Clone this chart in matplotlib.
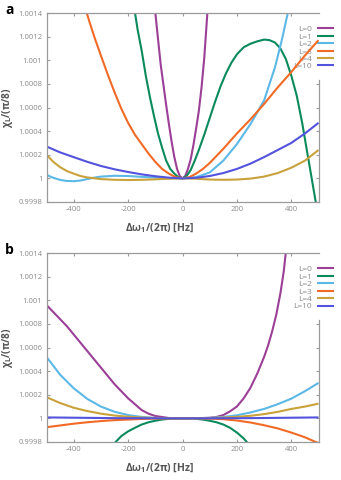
import matplotlib
matplotlib.use('Agg')
import matplotlib.pyplot as plt

FONT = 'Open Sans'
plt.rcParams['font.family'] = [FONT, 'DejaVu Sans']
plt.rcParams['axes.unicode_minus'] = False
plt.rcParams['mathtext.fontset'] = 'custom'
plt.rcParams['mathtext.rm'] = FONT
plt.rcParams['mathtext.bf'] = FONT + ':bold'
plt.rcParams['mathtext.it'] = FONT + ':italic'

# ---------------- data ----------------
labels = ['L=0', 'L=1', 'L=2', 'L=3', 'L=4', 'L=10']
colors = ['#9c3f97', '#0b8a5c', '#5cb8e6', '#f26b26', '#c9a23c', '#5353de']

xticks = [-400, -200, 0, 200, 400]
yticks = [0.9998, 1.0, 1.0002, 1.0004, 1.0006, 1.0008, 1.001, 1.0012, 1.0014]
yticklabels = ['0.9998', '1', '1.0002', '1.0004', '1.0006', '1.0008', '1.001', '1.0012', '1.0014']

# panel a
a_L0_x = [-102, -90, -80, -70, -60, -50, -40, -30, -20, -10, 0, 10, 20, 30, 40, 50, 60, 70, 80, 92]
a_L0_y = [1.00145, 1.00118, 1.00096, 1.00079, 1.00062, 1.00046, 1.00031, 1.00018, 1.00008, 1.00002, 1.0,
          1.00002, 1.00008, 1.00016, 1.00028, 1.00042, 1.00057, 1.00077, 1.00102, 1.00142]
a_L1_x = [-180, -165, -150, -135, -120, -105, -90, -75, -60, -45, -30, -15, 0, 15, 30, 45, 60, 80, 100,
          120, 140, 160, 180, 200, 225, 250, 275, 300, 320, 340, 360, 380, 400, 420, 440, 460, 475, 492]
a_L1_y = [1.00148, 1.00126, 1.00108, 1.00087, 1.00069, 1.00053, 1.00038, 1.00026, 1.00015, 1.00008, 1.00004,
          1.00001, 1.0, 1.00002, 1.00007, 1.00015, 1.00024, 1.00037, 1.00051, 1.00065, 1.00078, 1.00089,
          1.00098, 1.00105, 1.00111, 1.00114, 1.00116, 1.001175, 1.00117, 1.00115, 1.0011, 1.00101,
          1.00087, 1.0007, 1.00047, 1.0002, 1.0, 0.99977]
a_L2_x = [-500, -475, -450, -425, -400, -375, -350, -325, -300, -250, -200, -150, -100, -50, 0, 50, 100,
          150, 200, 250, 300, 340, 365, 390]
a_L2_y = [1.00003, 1.000005, 0.999987, 0.999978, 0.999976, 0.999982, 0.999994, 1.000006, 1.000015,
          1.000022, 1.00002, 1.000013, 1.000007, 1.000002, 1.0, 1.00001, 1.00005, 1.00015, 1.00029,
          1.00046, 1.00066, 1.00094, 1.00117, 1.00143]
a_L3_x = [-360, -340, -320, -300, -275, -250, -225, -200, -175, -150, -125, -100, -75, -50, -25, 0, 25,
          50, 75, 100, 150, 200, 250, 300, 350, 400, 450, 500]
a_L3_y = [1.00146, 1.00131, 1.00117, 1.00104, 1.00088, 1.00073, 1.00059, 1.00047, 1.00037, 1.00029,
          1.00021, 1.00014, 1.00008, 1.00004, 1.00001, 1.0, 1.00001, 1.00004, 1.00008, 1.00013, 1.00025,
          1.00038, 1.0005, 1.00063, 1.00077, 1.0009, 1.00104, 1.00117]
a_L4_x = [-500, -475, -450, -425, -400, -375, -350, -300, -250, -200, -150, -100, -50, 0, 50, 100, 150,
          200, 250, 300, 350, 400, 450, 500]
a_L4_y = [1.0002, 1.00014, 1.000095, 1.000062, 1.00004, 1.00002, 1.000008, 0.999994, 0.999988, 0.999986,
          0.999988, 0.999992, 0.999997, 1.0, 0.999997, 0.99999, 0.999988, 0.99999, 0.999998, 1.000015,
          1.000045, 1.00009, 1.00015, 1.00024]
a_L10_x = [-500, -450, -400, -350, -300, -250, -200, -150, -100, -50, 0, 50, 100, 150, 200, 250, 300,
           350, 400, 450, 500]
a_L10_y = [1.00027, 1.00022, 1.00018, 1.00014, 1.000105, 1.000077, 1.000054, 1.000034, 1.000018,
           1.000006, 1.0, 1.000005, 1.00002, 1.000045, 1.00008, 1.000125, 1.00018, 1.00024, 1.0003,
           1.00038, 1.00047]

# panel b
b_L0_x = [-500, -475, -450, -425, -400, -375, -350, -325, -300, -275, -250, -225, -200, -175, -150, -125,
          -100, -50, 0, 50, 100, 125, 150, 175, 200, 225, 250, 275, 300, 315, 330, 345, 360, 372, 382]
b_L0_y = [1.00096, 1.0009, 1.00084, 1.00078, 1.00071, 1.00064, 1.00057, 1.0005, 1.00043, 1.00036,
          1.00029, 1.00023, 1.00017, 1.00012, 1.00007, 1.00004, 1.00002, 1.000003, 1.0, 1.000001,
          1.000005, 1.000012, 1.000028, 1.00006, 1.0001, 1.00017, 1.00026, 1.00038, 1.00052, 1.00062,
          1.00074, 1.00088, 1.00106, 1.00124, 1.00145]
b_L1_x = [-250, -225, -200, -175, -150, -125, -100, -75, -50, -25, 0, 25, 50, 75, 100, 125, 150, 175,
          200, 225, 240]
b_L1_y = [0.99979, 0.99985, 0.99989, 0.99992, 0.999948, 0.999967, 0.99998, 0.99999, 0.999996, 0.999999,
          1.0, 0.999999, 0.999996, 0.99999, 0.99998, 0.999967, 0.999948, 0.99992, 0.99988, 0.99983,
          0.99979]
b_x = [-500, -450, -400, -350, -300, -250, -200, -150, -100, -50, 0, 50, 100, 150, 200, 250, 300, 350,
       400, 450, 500]
b_L2_y = [1.00052, 1.00037, 1.000255, 1.000165, 1.0001, 1.000056, 1.000028, 1.000012, 1.000004,
          1.000001, 1.0, 1.000001, 1.000004, 1.000012, 1.000026, 1.00005, 1.00008, 1.00012, 1.000167,
          1.00023, 1.0003]
b_L3_y = [0.999925, 0.99994, 0.999955, 0.999967, 0.999977, 0.999985, 0.99999, 0.999995, 0.999998, 1.0,
          1.0, 1.0, 0.999998, 0.999993, 0.999982, 0.999965, 0.999942, 0.999915, 0.99988, 0.99984,
          0.99979]
b_L4_y = [1.00018, 1.00013, 1.00009, 1.000062, 1.00004, 1.000024, 1.000014, 1.000007, 1.000003,
          1.000001, 1.0, 1.000001, 1.000003, 1.000007, 1.000013, 1.000022, 1.000036, 1.000055, 1.00008,
          1.0001, 1.000125]
b_L10_x = [-500, -250, 0, 250, 500]
b_L10_y = [1.000008, 1.000002, 1.0, 1.000002, 1.000008]

panel_a = [(a_L0_x, a_L0_y), (a_L1_x, a_L1_y), (a_L2_x, a_L2_y), (a_L3_x, a_L3_y),
           (a_L4_x, a_L4_y), (a_L10_x, a_L10_y)]
panel_b = [(b_L0_x, b_L0_y), (b_L1_x, b_L1_y), (b_x, b_L2_y), (b_x, b_L3_y),
           (b_x, b_L4_y), (b_L10_x, b_L10_y)]

# ---------------- figure ----------------
W, H = 341, 480
fig = plt.figure(figsize=(W / 100, H / 100), dpi=100)
GRAY = '#9a9a9a'
TXT = '#8a8a8a'
LBL = '#555555'


def draw(top_px, series, letter):
    left, right, bottom = 46.5, 318.5, top_px + 189
    ax = fig.add_axes([left / W, 1 - bottom / H, (right - left) / W, 189 / H])
    for (x, y), c, lab in zip(series, colors, labels):
        ax.plot(x, y, color=c, lw=1.5, label=lab, solid_capstyle='butt', solid_joinstyle='round')
    ax.set_xlim(-500, 500)
    ax.set_ylim(0.9998, 1.0014)
    ax.set_xticks(xticks)
    ax.set_xticklabels([str(v) for v in xticks])
    ax.set_yticks(yticks)
    ax.set_yticklabels(yticklabels)
    for s in ax.spines.values():
        s.set_color(GRAY)
        s.set_linewidth(0.9)
    ax.tick_params(direction='in', length=2.5, width=0.8, color=GRAY, labelcolor=TXT,
                   labelsize=5.5, top=True, right=True, pad=3)
    # right spine hidden behind the legend
    ax.spines['right'].set_bounds(0.9998, 1.00083)
    for t, v in zip(ax.yaxis.get_major_ticks(), yticks):
        if v > 1.00083:
            t.tick2line.set_visible(False)
    ax.text(-0.145, 0.5, r'χ$_{\mathbf{L}}$/(π/8)', transform=ax.transAxes, rotation=90, ha='center',
            va='center', fontsize=7.3, fontweight='bold', color=LBL)
    ax.text(0.414, -0.138, r'Δω$_{\mathbf{1}}$/(2π) [Hz]', transform=ax.transAxes, ha='center',
            va='center', fontsize=7.5, fontweight='bold', color=LBL)
    fig.text(5 / W, 1 - (top_px - 3) / H, letter, fontsize=10, fontweight='bold', color='black',
             ha='left', va='center')
    leg = ax.legend(loc='upper right', bbox_to_anchor=(336 / W, 1 - (top_px + 10) / H),
                    bbox_transform=fig.transFigure, markerfirst=False, frameon=True, fontsize=6,
                    handlelength=2.0, handletextpad=0.6, labelspacing=-0.05, borderpad=0.3,
                    borderaxespad=0, fancybox=False)
    fr = leg.get_frame()
    fr.set_facecolor('white')
    fr.set_edgecolor('none')
    fr.set_alpha(1)
    for t in leg.get_texts():
        t.set_color(TXT)
    leg.set_zorder(1.5)
    return ax


draw(13, panel_a, 'a')
draw(253, panel_b, 'b')

fig.savefig('out.png', dpi=100)
